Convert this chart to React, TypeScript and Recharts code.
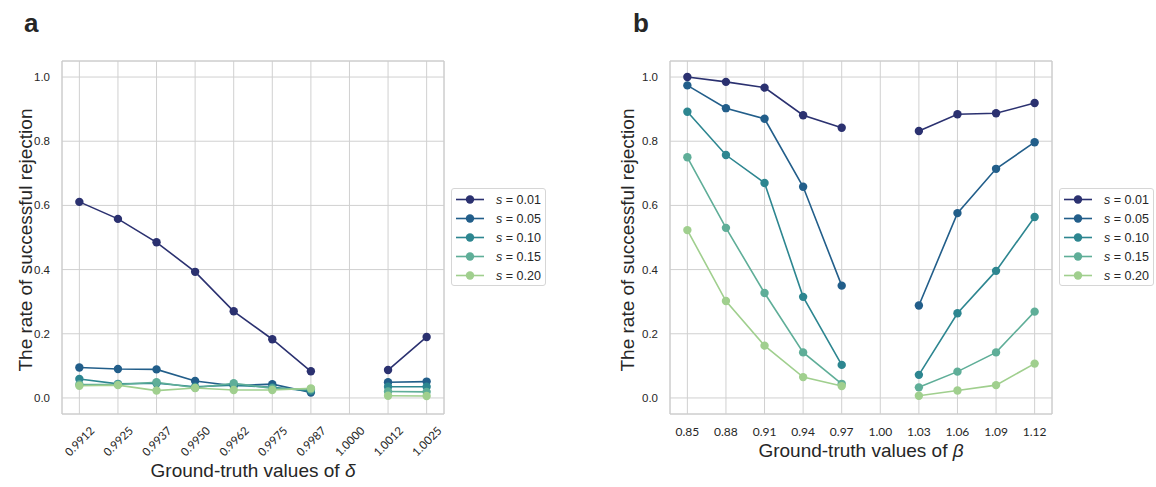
import React from 'react';
import { LineChart, Line, XAxis, YAxis, CartesianGrid, ReferenceArea } from 'recharts';

const deltaLabels = ['0.9912', '0.9925', '0.9937', '0.9950', '0.9962', '0.9975', '0.9987', '1.0000', '1.0012', '1.0025'];
const betaLabels = ['0.85', '0.88', '0.91', '0.94', '0.97', '1.00', '1.03', '1.06', '1.09', '1.12'];
const seriesNames = ['0.01', '0.05', '0.10', '0.15', '0.20'];
const colors = ['#2b3170', '#225e8a', '#2d8690', '#5fae98', '#a0cf8e'];
const yTicks = [0, 0.2, 0.4, 0.6, 0.8, 1.0];

const aS01 = [0.611, 0.558, 0.485, 0.393, 0.270, 0.183, 0.083, null, 0.087, 0.190];
const aS05 = [0.095, 0.090, 0.089, 0.053, 0.038, 0.043, 0.017, null, 0.049, 0.051];
const aS10 = [0.059, 0.044, 0.046, 0.035, 0.040, 0.033, 0.022, null, 0.035, 0.035];
const aS15 = [0.042, 0.042, 0.049, 0.032, 0.046, 0.030, 0.027, null, 0.020, 0.019];
const aS20 = [0.038, 0.040, 0.023, 0.031, 0.025, 0.025, 0.030, null, 0.007, 0.006];

const bS01 = [1.0, 0.985, 0.967, 0.881, 0.842, null, 0.832, 0.884, 0.887, 0.919];
const bS05 = [0.974, 0.903, 0.870, 0.658, 0.350, null, 0.288, 0.576, 0.714, 0.797];
const bS10 = [0.892, 0.757, 0.670, 0.315, 0.103, null, 0.072, 0.264, 0.396, 0.564];
const bS15 = [0.750, 0.530, 0.327, 0.142, 0.044, null, 0.033, 0.082, 0.142, 0.269];
const bS20 = [0.523, 0.302, 0.163, 0.065, 0.037, null, 0.007, 0.023, 0.040, 0.107];

const build = (series: (number | null)[][]) =>
  series[0].map((_, i) => {
    const row: any = { i };
    series.forEach((s, k) => { row['s' + k] = s[i]; });
    return row;
  });

const dataA = build([aS01, aS05, aS10, aS15, aS20]);
const dataB = build([bS01, bS05, bS10, bS15, bS20]);

const xIdx = deltaLabels.map((_, i) => i);
const XDOM: [number, number] = [-0.45, 9.45];
const YDOM: [number, number] = [-0.05, 1.05];
const TXT = '#262626';
const GRID = '#d0d0d0';
const SANS = '"Liberation Sans", Arial, sans-serif';
const TICKFONT = 'Lato, "Open Sans", sans-serif';

const RotTick = (props: any) => {
  const { x, y, payload } = props;
  const cy = y + 19;
  return (
    <text x={x} y={cy} textAnchor="middle" dominantBaseline="central" fontSize={11.5} fontFamily={TICKFONT} fill={TXT}
      transform={`rotate(-45, ${x}, ${cy})`}>
      {deltaLabels[payload.value]}
    </text>
  );
};

const renderLines = () =>
  seriesNames.map((n, k) => (
    <Line key={n} dataKey={'s' + k} type="linear" stroke={colors[k]} strokeWidth={1.6}
      dot={{ r: 4.2, fill: colors[k], stroke: colors[k], strokeWidth: 0 }}
      connectNulls={false} isAnimationActive={false} />
  ));

const Legend = ({ left, top }: { left: number; top: number }) => (
  <div style={{ position: 'absolute', left, top, width: 95, height: 98, border: '1px solid #d6d6d6', borderRadius: 3, background: '#fff', boxSizing: 'border-box' }}>
    {seriesNames.map((n, k) => (
      <div key={n} style={{ position: 'absolute', left: 0, top: 1 + k * 19, height: 19, display: 'flex', alignItems: 'center' }}>
        <svg width={44} height={19} style={{ display: 'block' }}>
          <line x1={4} y1={9.5} x2={32} y2={9.5} stroke={colors[k]} strokeWidth={1.6} />
          <circle cx={18} cy={9.5} r={4.2} fill={colors[k]} />
        </svg>
        <span style={{ fontFamily: SANS, fontSize: 12.5, color: TXT, whiteSpace: 'nowrap' }}>
          <i>s</i> = {n}
        </span>
      </div>
    ))}
  </div>
);

export default function App() {
  return (
    <div style={{ position: 'absolute', left: 0, top: 0, width: 1156, height: 487, background: '#fff', overflow: 'hidden' }}>
      <div style={{ position: 'absolute', left: 0, top: 0 }}>
        <LineChart width={450} height={487} data={dataA} margin={{ top: 61, right: 6, bottom: 33, left: 22 }}>
          <CartesianGrid stroke={GRID} strokeWidth={1} />
          <XAxis dataKey="i" type="number" domain={XDOM} ticks={xIdx} allowDataOverflow axisLine={false} tickLine={false}
            height={40} tick={<RotTick />} interval={0} />
          <YAxis type="number" domain={YDOM} ticks={yTicks} allowDataOverflow axisLine={false} tickLine={false} width={40}
            tickSize={6} tickMargin={6} tickFormatter={(v: number) => v.toFixed(1)}
            tick={{ fontSize: 11.5, fill: TXT, fontFamily: SANS }} />
          <ReferenceArea x1={XDOM[0]} x2={XDOM[1]} y1={YDOM[0]} y2={YDOM[1]} fill="none" stroke="#cccccc" strokeWidth={1} ifOverflow="visible" />
          {renderLines()}
        </LineChart>
      </div>
      <div style={{ position: 'absolute', left: 600, top: 0 }}>
        <LineChart width={460} height={487} data={dataB} margin={{ top: 61, right: 8, bottom: 33, left: 30 }}>
          <CartesianGrid stroke={GRID} strokeWidth={1} />
          <XAxis dataKey="i" type="number" domain={XDOM} ticks={xIdx} allowDataOverflow axisLine={false} tickLine={false}
            height={40} tickSize={6} tickMargin={7} interval={0}
            tickFormatter={(v: number) => betaLabels[v]}
            tick={{ fontSize: 12, fill: TXT, fontFamily: TICKFONT }} />
          <YAxis type="number" domain={YDOM} ticks={yTicks} allowDataOverflow axisLine={false} tickLine={false} width={40}
            tickSize={6} tickMargin={6} tickFormatter={(v: number) => v.toFixed(1)}
            tick={{ fontSize: 11.5, fill: TXT, fontFamily: SANS }} />
          <ReferenceArea x1={XDOM[0]} x2={XDOM[1]} y1={YDOM[0]} y2={YDOM[1]} fill="none" stroke="#cccccc" strokeWidth={1} ifOverflow="visible" />
          {renderLines()}
        </LineChart>
      </div>
      <svg width={1156} height={487} style={{ position: 'absolute', left: 0, top: 0, pointerEvents: 'none' }}>
        <text x={24} y={32} fontSize={26} fontWeight="bold" fontFamily={SANS} fill={TXT}>a</text>
        <text x={633} y={32} fontSize={26} fontWeight="bold" fontFamily={SANS} fill={TXT}>b</text>
        <text x={0} y={0} transform="translate(25,240) rotate(-90)" textAnchor="middle" dominantBaseline="central" fontSize={19} fontFamily={SANS} fill={TXT}>
          The rate of successful rejection
        </text>
        <text x={0} y={0} transform="translate(627,240) rotate(-90)" textAnchor="middle" dominantBaseline="central" fontSize={19} fontFamily={SANS} fill={TXT}>
          The rate of successful rejection
        </text>
        <text x={253} y={470} textAnchor="middle" dominantBaseline="central" fontSize={19} fontFamily={SANS} fill={TXT}>
          Ground-truth values of <tspan fontStyle="italic">δ</tspan>
        </text>
        <text x={861} y={450} textAnchor="middle" dominantBaseline="central" fontSize={19} fontFamily={SANS} fill={TXT}>
          Ground-truth values of <tspan fontStyle="italic">β</tspan>
        </text>
      </svg>
      <Legend left={451} top={188} />
      <Legend left={1059} top={188} />
    </div>
  );
}
